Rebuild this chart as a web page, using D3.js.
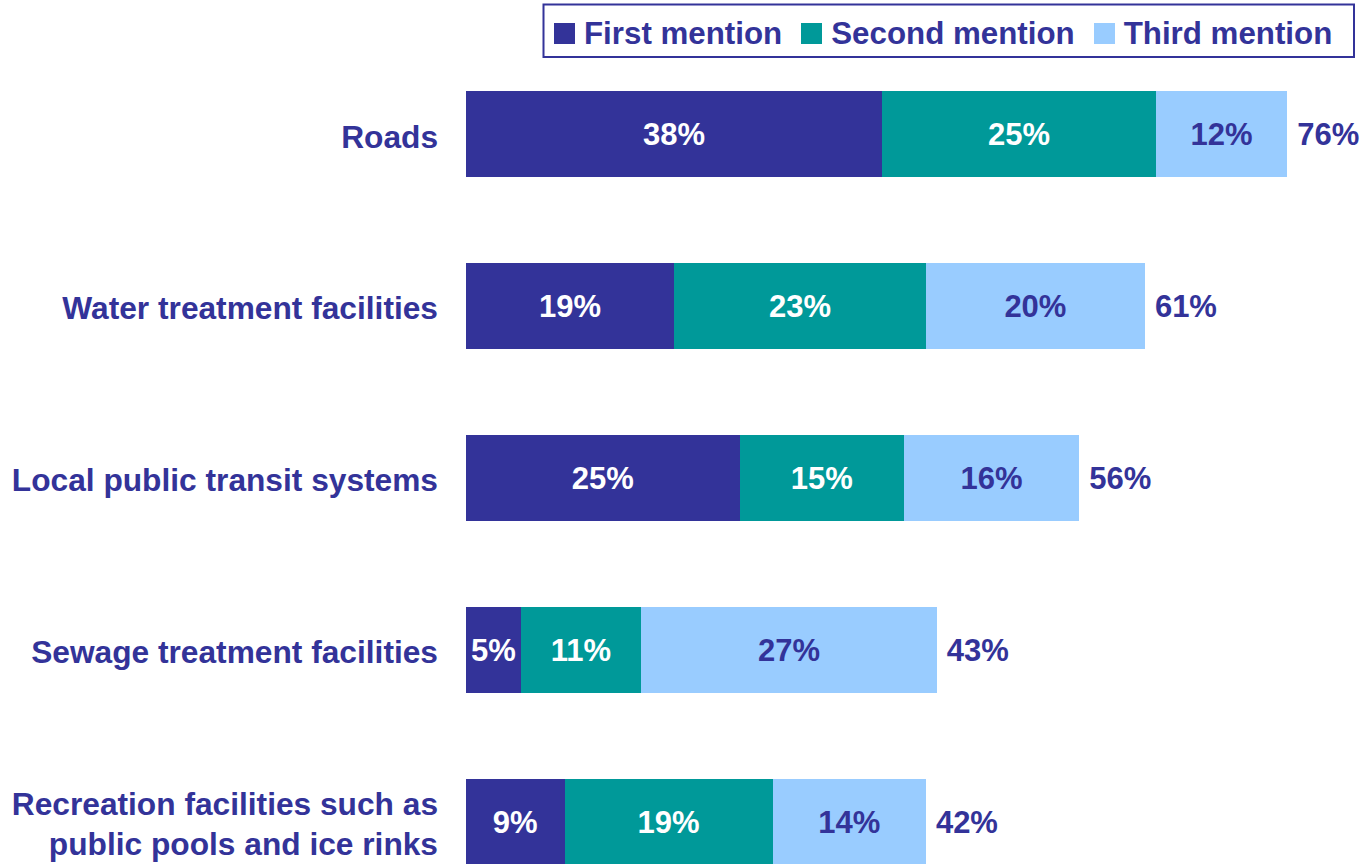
<!DOCTYPE html>
<html>
<head>
<meta charset="utf-8">
<script src="https://cdn.jsdelivr.net/npm/d3@7"></script>
<style>
  html, body { margin: 0; padding: 0; background: #ffffff; }
  svg { display: block; }
  text { font-family: "Liberation Sans", Arial, Helvetica, sans-serif; font-weight: bold; }
</style>
</head>
<body>
<svg id="chart" width="1364" height="864"></svg>
<script>
// ---- Data ----
const categories = [
  ["Roads"],
  ["Water treatment facilities"],
  ["Local public transit systems"],
  ["Sewage treatment facilities"],
  ["Recreation facilities such as", "public pools and ice rinks"]
];
const seriesNames = ["First mention", "Second mention", "Third mention"];
const firstMention  = [38, 19, 25, 5, 9];
const secondMention = [25, 23, 15, 11, 19];
const thirdMention  = [12, 20, 16, 27, 14];
const totalLabels   = [76, 61, 56, 43, 42];

// ---- Styles ----
const colors = ["#333399", "#009999", "#99CCFF"];
const labelColors = ["#ffffff", "#ffffff", "#333399"];
const textColor = "#333399";

const svg = d3.select("#chart");

const series = [firstMention, secondMention, thirdMention];
const rows = categories.map((c, i) => {
  const o = { idx: i };
  seriesNames.forEach((s, j) => o[s] = series[j][i]);
  return o;
});
const stacked = d3.stack().keys(seriesNames)(rows);

const x = d3.scaleLinear().domain([0, 100]).range([466, 1561]);
const y = d3.scaleBand().domain(d3.range(categories.length)).range([91, 864.5]).paddingInner(0.5).paddingOuter(0);

// Bars
const layers = svg.append("g").attr("shape-rendering", "crispEdges")
  .selectAll("g").data(stacked).join("g")
  .attr("fill", (d, j) => colors[j]);
layers.selectAll("rect").data(d => d).join("rect")
  .attr("x", d => x(d[0]))
  .attr("y", d => y(d.data.idx))
  .attr("width", d => x(d[1]) - x(d[0]))
  .attr("height", y.bandwidth());

// Segment labels
stacked.forEach((layer, j) => {
  svg.append("g").selectAll("text").data(layer).join("text")
    .attr("x", d => (x(d[0]) + x(d[1])) / 2)
    .attr("y", d => y(d.data.idx) + y.bandwidth() / 2)
    .attr("dy", "0.37em")
    .attr("text-anchor", "middle")
    .attr("font-size", 31)
    .attr("fill", labelColors[j])
    .text(d => (d[1] - d[0]) + "%");
});

// Total labels
const last = stacked[stacked.length - 1];
svg.append("g").selectAll("text").data(last).join("text")
  .attr("x", d => x(d[1]) + 10)
  .attr("y", d => y(d.data.idx) + y.bandwidth() / 2)
  .attr("dy", "0.37em")
  .attr("font-size", 31)
  .attr("fill", textColor)
  .text((d, i) => totalLabels[i] + "%");

// Category labels
const lineH = 40;
svg.append("g").selectAll("text").data(categories).join("text")
  .attr("text-anchor", "end")
  .attr("font-size", 31.7)
  .attr("fill", textColor)
  .each(function(lines, i) {
    const cy = y(i) + y.bandwidth() / 2;
    const t = d3.select(this);
    lines.forEach((ln, k) => {
      t.append("tspan")
        .attr("x", 438)
        .attr("y", cy + (k - (lines.length - 1) / 2) * lineH)
        .attr("dy", "0.43em")
        .text(ln);
    });
  });

// Legend
const lg = svg.append("g");
const box = lg.append("rect")
  .attr("x", 543.5).attr("y", 4.5).attr("height", 52.5)
  .attr("fill", "#ffffff").attr("stroke", textColor).attr("stroke-width", 2);
let lx = 554;
seriesNames.forEach((s, j) => {
  lg.append("rect").attr("x", lx).attr("y", 23).attr("width", 21).attr("height", 21)
    .attr("fill", colors[j]).attr("shape-rendering", "crispEdges");
  const t = lg.append("text").attr("x", lx + 30).attr("y", 43.5)
    .attr("font-size", 31.3).attr("fill", textColor).text(s);
  lx = lx + 30 + t.node().getComputedTextLength() + 19;
});
box.attr("width", 1354 - 543.5);
</script>
</body>
</html>
